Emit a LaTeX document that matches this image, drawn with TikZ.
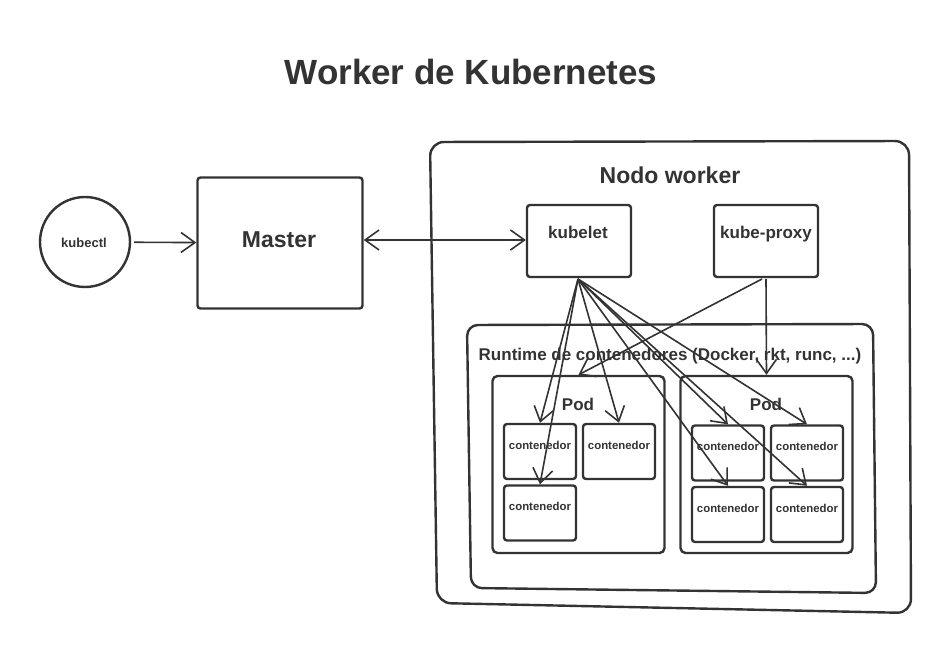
\documentclass[tikz,border=0pt]{standalone}
\usepackage{fontspec}
\setmainfont{Liberation Sans}
\usetikzlibrary{arrows.meta}
\definecolor{ink}{HTML}{333333}
\tikzset{
  x=1pt, y=-1pt,
  box/.style={draw=ink, line width=2.4pt, rounded corners=3pt, inner sep=0pt},
  lbl/.style={text=ink, font=\bfseries, inner sep=0pt, anchor=base},
  barb/.tip={Straight Barb[length=14pt, width=20pt, line width=1.6pt]},
  conn/.style={draw=ink, line width=1.6pt, -barb},
  frame/.style={draw=ink, line width=2.4pt, rounded corners=14pt},
}
\newcommand{\fs}[1]{\fontsize{#1}{#1}\selectfont}
\begin{document}
\begin{tikzpicture}
\path[use as bounding box, fill=white] (0,0) rectangle (951,650);

% title
\node[lbl, font=\bfseries\fs{35}] (title) at (471,85) {Worker de Kubernetes};

% kubectl and master
\node[circle, draw=ink, line width=2.4pt, minimum size=90pt, inner sep=0pt] (kubectl) at (85,242) {};
\node[lbl, font=\bfseries\fs{13}] (kubectlt) at (84,247) {kubectl};
\node[box, minimum width=165pt, minimum height=131pt] (master) at (280,243) {};
\node[lbl, font=\bfseries\fs{23}] (mastert) at (279,247) {Master};

% outer worker frame
\draw[frame] (430,142) -- (909,141) -- (911,613) -- (437,603) -- cycle;
\node[lbl, font=\bfseries\fs{23}] (nodot) at (670,183) {Nodo worker};

% kubelet / kube-proxy
\node[box, minimum width=104pt, minimum height=72pt] (kubelet) at (579,241) {};
\node[lbl, font=\bfseries\fs{17}] (kubeletT) at (578,238) {kubelet};
\node[box, minimum width=104pt, minimum height=72pt] (kproxy) at (766,241) {};
\node[lbl, font=\bfseries\fs{17}] (kproxyT) at (766,238) {kube-proxy};

% runtime frame
\draw[frame, rounded corners=11pt] (467,325) -- (873,324) -- (876,593) -- (471,588) -- cycle;
\node[lbl, font=\bfseries\fs{17}] (runtimeT) at (670,360) {Runtime de contenedores (Docker, rkt, runc, ...)};

% pods
\node[box, rounded corners=5pt, minimum width=172pt, minimum height=177pt] (pod1) at (578.5,464.5) {};
\node[lbl, font=\bfseries\fs{17}] (pod1T) at (578,410) {Pod};
\node[box, rounded corners=5pt, minimum width=172pt, minimum height=177pt] (pod2) at (766.5,464.5) {};
\node[lbl, font=\bfseries\fs{17}] (pod2T) at (766,410) {Pod};

% containers
\foreach \n/\cx/\cy in {c1/540/451.5, c2/619/451.5, c3/540/513, c4/728/453, c5/807/453, c6/728/514.5, c7/807/514.5}{
  \node[box, minimum width=72pt, minimum height=55pt] (\n) at (\cx,\cy) {};
  \node[lbl, font=\bfseries\fs{11.4}] (\n t) at (\cx,\cy-2.5) {contenedor};
}

% connectors
\draw[conn, shorten <=3pt] (kubectl) -- (master);
\draw[conn, barb-barb] (master.east |- 0,240) -- (kubelet.west |- 0,240);

\coordinate (kb) at (578,279);
\foreach \t in {c1,c2,c3,c4,c5,c6,c7}{
  \draw[conn] (kb) -- (\t.north);
}
\coordinate (kp1) at (762,279);
\coordinate (kp2) at (766,279);
\draw[conn] (kp1) -- (pod1.north);
\draw[conn] (kp2) -- (pod2.north);
\end{tikzpicture}
\end{document}
